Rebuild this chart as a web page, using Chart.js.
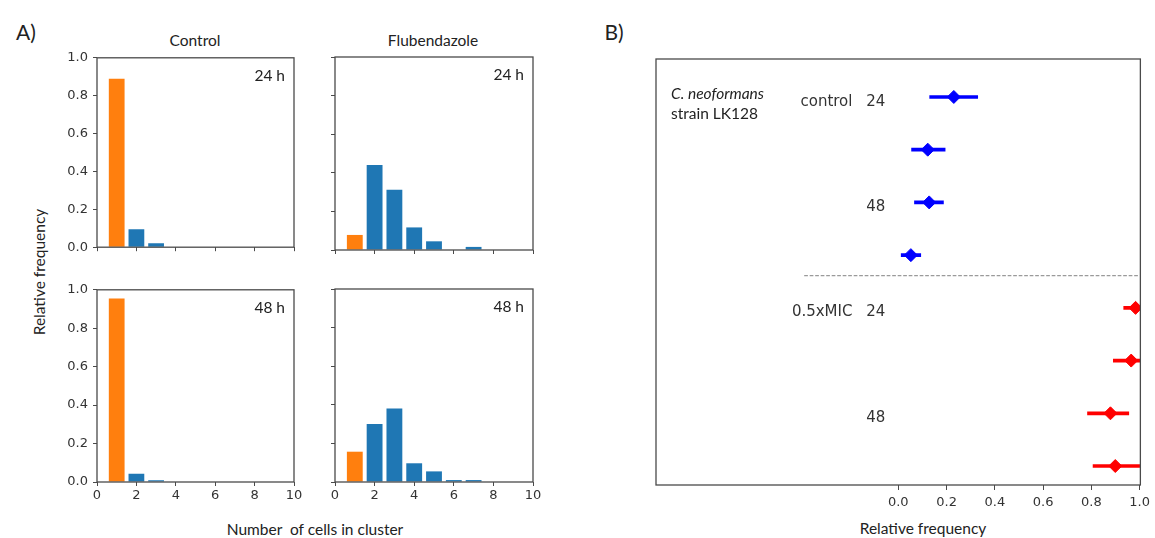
<!DOCTYPE html>
<html>
<head>
<meta charset="utf-8">
<script src="https://cdn.jsdelivr.net/npm/chart.js@4.4.1/dist/chart.umd.min.js"></script>
<style>
  html, body { margin: 0; padding: 0; background: #fff; overflow: hidden; }
  body { width: 1155px; height: 538px; position: relative; }
  canvas { position: absolute; display: block; }
  .txt { position: absolute; white-space: nowrap; font-family: Lato, sans-serif; font-size: 15.5px;
         line-height: 1; color: #222; transform: translate(-50%, -50%); }
</style>
</head>
<body>
<div class="txt" style="left:26px; top:31px; font-size:21px;">A)</div>
<div class="txt" style="left:614px; top:31px; font-size:21px;">B)</div>
<div class="txt" style="left:195px; top:41px;">Control</div>
<div class="txt" style="left:433px; top:41px;">Flubendazole</div>
<div class="txt" style="left:40px; top:272px; transform: translate(-50%, -50%) rotate(-90deg);">Relative frequency</div>
<div class="txt" style="left:315px; top:530px;">Number&nbsp; of cells in cluster</div>
<div class="txt" style="left:923px; top:529px;">Relative frequency</div>

<script>
// ---- panel A : cluster size histograms ----
const clusterSizes = [1, 2, 3, 4, 5, 6, 7];
const control24 = [0.89, 0.095, 0.021, 0, 0, 0, 0];
const flub24    = [0.078, 0.44, 0.312, 0.117, 0.045, 0, 0.016];
const control48 = [0.955, 0.043, 0.009, 0, 0, 0, 0];
const flub48    = [0.157, 0.30, 0.381, 0.097, 0.055, 0.01, 0.01];
const xTicksA = [0, 2, 4, 6, 8, 10];
const yTicksA = [0, 0.2, 0.4, 0.6, 0.8, 1.0];

// ---- panel B : relative frequency of single cells ----
const bRows      = [0, 1, 2, 3, 4, 5, 6, 7];
const bTreatment = ['control', 'control', 'control', 'control', '0.5xMIC', '0.5xMIC', '0.5xMIC', '0.5xMIC'];
const bTime      = ['24', '24', '48', '48', '24', '24', '48', '48'];
const bMean      = [0.23, 0.122, 0.128, 0.052, 0.983, 0.965, 0.879, 0.899];
const bLow       = [0.13, 0.055, 0.067, 0.012, 0.934, 0.891, 0.784, 0.807];
const bHigh      = [0.329, 0.194, 0.187, 0.093, 1.03, 1.04, 0.955, 1.0];
const xTicksB    = [0, 0.2, 0.4, 0.6, 0.8, 1.0];
const bSeparator = 3.39;   // dashed line between treatments

const ORANGE = '#ff7f0e';
const BLUE = '#1f77b4';
const AXIS = '#4a4a4a';
const PAD = 12;

Chart.defaults.font.family = "'DejaVu Sans', sans-serif";
Chart.defaults.font.size = 13;
Chart.defaults.color = '#333';

// matplotlib style frame around the plot area
const boxPlugin = {
  id: 'axesBox',
  afterDraw(chart) {
    const { ctx, chartArea: a } = chart;
    ctx.save();
    ctx.strokeStyle = AXIS;
    ctx.lineWidth = 1.3;
    ctx.strokeRect(a.left, a.top, a.right - a.left, a.bottom - a.top);
    ctx.restore();
  }
};

// "24 h" / "48 h" in the upper right corner
const cornerTextPlugin = {
  id: 'cornerText',
  afterDraw(chart, args, opts) {
    if (!opts.text) return;
    const { ctx, chartArea: a } = chart;
    ctx.save();
    ctx.font = '15.5px Lato, sans-serif';
    ctx.fillStyle = '#222';
    ctx.textAlign = 'right';
    ctx.textBaseline = 'middle';
    ctx.fillText(opts.text, a.right - 9, a.top + 18);
    ctx.restore();
  }
};

function makeCanvas(plot, yw, xh, padLeft) {
  const c = document.createElement('canvas');
  const left = plot.l - yw - padLeft;
  const top = plot.t - PAD;
  const w = plot.r + PAD - left;
  const h = plot.b + xh - top;
  c.width = w; c.height = h;
  c.style.left = left + 'px'; c.style.top = top + 'px';
  c.style.width = w + 'px'; c.style.height = h + 'px';
  document.body.appendChild(c);
  return c;
}

const tickGrid = { display: true, drawOnChartArea: false, drawTicks: true, tickLength: 4, color: AXIS, lineWidth: 1 };

function histChart(plot, values, label, showX, showY) {
  const yw = 36, xh = showX ? 22 : 10;
  const canvas = makeCanvas(plot, yw, xh, 0);
  return new Chart(canvas, {
    type: 'bar',
    data: {
      datasets: [{
        data: clusterSizes.map((n, i) => ({ x: n, y: values[i] })),
        backgroundColor: clusterSizes.map(n => n === 1 ? ORANGE : BLUE),
        borderWidth: 0,
        categoryPercentage: 1.0,
        barPercentage: 0.8
      }]
    },
    options: {
      responsive: false,
      animation: false,
      events: [],
      devicePixelRatio: 1,
      layout: { padding: { top: PAD, right: PAD, left: 0, bottom: 0 } },
      plugins: { legend: { display: false }, tooltip: { enabled: false }, cornerText: { text: label } },
      scales: {
        x: {
          type: 'linear', min: 0, max: 10, offset: false,
          afterBuildTicks: s => { s.ticks = xTicksA.map(v => ({ value: v })); },
          grid: Object.assign({ offset: false }, tickGrid),
          border: { display: false },
          ticks: { display: showX, padding: 2, maxRotation: 0, autoSkip: false, callback: v => String(v) },
          afterFit: s => { s.height = xh; }
        },
        y: {
          type: 'linear', min: 0, max: 1,
          afterBuildTicks: s => { s.ticks = yTicksA.map(v => ({ value: v })); },
          grid: tickGrid,
          border: { display: false },
          ticks: { display: showY, padding: 5, callback: v => v.toFixed(1) },
          afterFit: s => { s.width = yw; }
        }
      }
    },
    plugins: [boxPlugin, cornerTextPlugin]
  });
}

histChart({ l: 97, t: 57, r: 294, b: 250 }, control24, '24 h', false, true);
histChart({ l: 335, t: 57, r: 533, b: 250 }, flub24, '24 h', false, false);
histChart({ l: 97, t: 289, r: 294, b: 482 }, control48, '48 h', true, true);
histChart({ l: 335, t: 289, r: 533, b: 482 }, flub48, '48 h', true, false);

// ---- panel B ----
const rowColor = t => t === 'control' ? '#0000ff' : '#ff0000';

const rowLabelPlugin = {
  id: 'rowLabels',
  afterDraw(chart) {
    const { ctx, chartArea: a, scales: { x, y } } = chart;
    ctx.save();
    ctx.fillStyle = '#333';
    ctx.font = "15px 'DejaVu Sans', sans-serif";
    ctx.textBaseline = 'middle';
    bRows.forEach((r, i) => {
      const py = y.getPixelForValue(r + 0.09);
      if (i === 0 || bTreatment[i] !== bTreatment[i - 1]) {
        ctx.textAlign = 'right';
        ctx.fillText(bTreatment[i], x.getPixelForValue(-0.19), py);
      }
      if (i === 0 || bTime[i] !== bTime[i - 1]) {
        ctx.textAlign = 'left';
        ctx.fillText(bTime[i], x.getPixelForValue(-0.133), py);
      }
    });
    ctx.fillStyle = '#222';
    ctx.textAlign = 'left';
    ctx.font = "italic 15.5px Lato, sans-serif";
    ctx.fillText('C. neoformans', a.left + 15, a.top + 34.5);
    ctx.font = "15.5px Lato, sans-serif";
    ctx.fillText('strain LK128', a.left + 15, a.top + 55);
    ctx.restore();
  }
};

const canvasB = makeCanvas({ l: 656, t: 59, r: 1144, b: 485 }, 0, 24, 16);
canvasB.width = canvasB.width - 1; canvasB.style.width = canvasB.width + 'px';

new Chart(canvasB, {
  type: 'scatter',
  data: {
    datasets: [
      {
        type: 'scatter',
        order: 0,
        data: bRows.map((r, i) => ({ x: bMean[i], y: r })),
        pointStyle: 'rectRot',
        pointRadius: 6.5,
        borderWidth: 1,
        backgroundColor: bTreatment.map(rowColor),
        borderColor: bTreatment.map(rowColor)
      },
      {
        type: 'bar',
        order: 1,
        indexAxis: 'y',
        clip: 0,
        data: bRows.map((r, i) => ({ y: r, x: [bLow[i], bHigh[i]] })),
        barThickness: 3,
        borderWidth: 0,
        backgroundColor: bTreatment.map(rowColor)
      },
      {
        type: 'line',
        order: 2,
        data: [{ x: -0.39, y: bSeparator }, { x: 1.0, y: bSeparator }],
        borderColor: '#9a9a9a',
        borderWidth: 1.3,
        borderDash: [3.7, 1.8],
        pointRadius: 0
      }
    ]
  },
  options: {
    responsive: false,
    animation: false,
    events: [],
    devicePixelRatio: 1,
    layout: { padding: { top: PAD, right: PAD - 1, left: 16, bottom: 0 } },
    plugins: { legend: { display: false }, tooltip: { enabled: false } },
    scales: {
      x: {
        type: 'linear', min: -1.004, max: 1.003, offset: false,
        afterBuildTicks: s => { s.ticks = xTicksB.map(v => ({ value: v })); },
        grid: Object.assign({}, tickGrid, { tickLength: 5, offset: false }),
        border: { display: false },
        ticks: { padding: 5, maxRotation: 0, autoSkip: false, callback: v => v.toFixed(1) },
        afterFit: s => { s.height = 24; }
      },
      y: {
        type: 'linear', display: false, reverse: true, min: -0.72, max: 7.36, offset: false,
        grid: { offset: false }
      }
    }
  },
  plugins: [boxPlugin, rowLabelPlugin]
});
</script>
</body>
</html>
